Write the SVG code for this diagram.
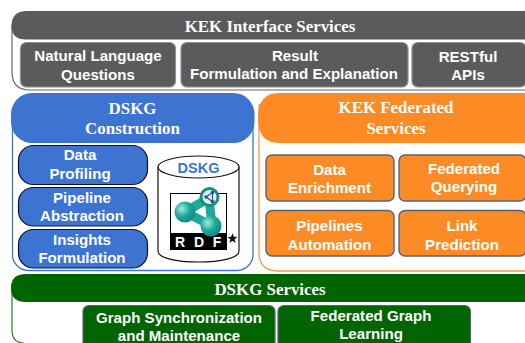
<svg xmlns="http://www.w3.org/2000/svg" width="525" height="343" viewBox="0 0 525 343">
<defs>
<style>
.h{font:bold 16.900px "Liberation Serif",serif;fill:#fff;text-anchor:middle}
.b{font:bold 15.100px "Liberation Sans",Arial,sans-serif;fill:#fff;text-anchor:middle}
.r{font:bold 14px "Liberation Sans",Arial,sans-serif;fill:#fff;text-anchor:middle}
.gray{fill:#5b5b5b;stroke:#8a8f96;stroke-width:1.2}
.blue{fill:#3d74d1;stroke:#0c1424;stroke-width:1.2}
.orange{fill:#fd8b25;stroke:#5a6472;stroke-width:1.4}
.green{fill:#006400;stroke:#5a6472;stroke-width:1.2}
</style>
<radialGradient id="t" cx=".35" cy=".35" r=".8"><stop offset="0" stop-color="#a5ece0"/><stop offset=".45" stop-color="#1fa99c"/><stop offset="1" stop-color="#0c7f76"/></radialGradient>
</defs>
<rect width="525" height="343" fill="#fff"/>
<g id="interface">
<path d="M12 25V72Q12 90 30 90H526V25Z" fill="#fff" stroke="#666" stroke-width="1.2"/>
<path d="M11.500 26Q11.500 11 27 11H526V39.500H26Q11.500 39.500 11.500 26Z" fill="#5b5b5b"/>
<text class="h" x="270" y="32">KEK Interface Services</text>
</g>
<g id="nl"><rect class="gray" x="20.500" y="42.500" width="155" height="44.500" rx="6"/><text class="b" x="98" y="61">Natural Language</text><text class="b" x="98" y="80">Questions</text></g>
<g id="result"><rect class="gray" x="181" y="42.500" width="227" height="44.500" rx="6"/><text class="b" x="295" y="61">Result</text><text class="b" x="294" y="79">Formulation and Explanation</text></g>
<g id="rest"><rect class="gray" x="412" y="42.500" width="114" height="44.500" rx="6"/><text class="b" x="468" y="62">RESTful</text><text class="b" x="468" y="80">APIs</text></g>

<g id="construction">
<rect x="12.500" y="105" width="240.500" height="165.500" rx="16" fill="#fff" stroke="#3d74d1" stroke-width="1.3"/>
<rect x="11" y="93" width="243.500" height="50" rx="21" fill="#3d74d1"/>
<text class="h" x="132.500" y="114">DSKG</text><text class="h" x="132.500" y="134">Construction</text>
</g>
<g id="profiling"><rect class="blue" x="18.500" y="145.500" width="129" height="39" rx="15"/><text class="b" x="80" y="160">Data</text><text class="b" x="80" y="179">Profiling</text></g>
<g id="abstraction"><rect class="blue" x="18.500" y="187.500" width="129" height="38.500" rx="15"/><text class="b" x="82" y="203">Pipeline</text><text class="b" x="82" y="221">Abstraction</text></g>
<g id="insights"><rect class="blue" x="18.500" y="229.500" width="129" height="38.500" rx="15"/><text class="b" x="82" y="245">Insights</text><text class="b" x="82" y="263">Formulation</text></g>

<g id="dskg-store">
<path d="M158 167V251C158 258 176 262 198.500 262S239 258 239 251V167" fill="#fff" stroke="#111" stroke-width="1.2"/>
<ellipse cx="198.500" cy="167" rx="40.500" ry="11" fill="#fff" stroke="#111" stroke-width="1.200"/>
<text x="198.500" y="173" font-family="Liberation Sans,Arial,sans-serif" font-weight="bold" font-size="14.500" fill="#3d74d1" text-anchor="middle">DSKG</text>
<rect x="170.500" y="193.500" width="56" height="56" fill="#fff" stroke="#000"/>
<rect x="170" y="233" width="57" height="17" fill="#000"/>
<path d="M185 212L209 198L212 226Z" stroke="#1fa99c" stroke-width="9" stroke-linejoin="round" fill="#fff"/>
<circle cx="185" cy="212" r="10.500" fill="url(#t)"/>
<circle cx="211" cy="226" r="10.500" fill="url(#t)"/>
<circle cx="209.500" cy="197" r="10" fill="#178f86"/>
<circle cx="209.500" cy="197" r="7" fill="#dff3f0"/>
<path d="M212.500 192.500L206 197L212.500 201.500Z" stroke="#2a4fa0" stroke-width="1.200" fill="none"/>
<circle cx="212.500" cy="192.500" r="1.800" fill="#2a4fa0"/><circle cx="206" cy="197" r="1.800" fill="#2a4fa0"/><circle cx="212.500" cy="201.500" r="1.800" fill="#2a4fa0"/>
<text class="r" x="180" y="247">R</text>
<text class="r" x="199" y="247">D</text>
<text class="r" x="217" y="247">F</text>
<path d="M232.500 233L233.800 236.700L237.500 237L234.600 239.200L235.600 243L232.500 240.800L229.400 243L230.400 239.200L227.500 237L231.200 236.700Z" fill="#111"/>
</g>

<g id="federated">
<path d="M259 105V252Q259 271 278 271H526V105Z" fill="#fff" stroke="#ee9a4d" stroke-width="1.3"/>
<path d="M526 93H279Q258 93 258 118Q258 143 279 143H526Z" fill="#fd8b25"/>
<text class="h" x="396" y="113">KEK Federated</text><text class="h" x="396" y="134">Services</text>
</g>
<g id="enrichment"><rect class="orange" x="266" y="155" width="128" height="46" rx="6"/><text class="b" x="329.500" y="175">Data</text><text class="b" x="329.500" y="193">Enrichment</text></g>
<g id="querying"><rect class="orange" x="399" y="155" width="127" height="46" rx="6"/><text class="b" x="464" y="174">Federated</text><text class="b" x="464" y="192">Querying</text></g>
<g id="automation"><rect class="orange" x="266" y="210.500" width="128" height="45.500" rx="6"/><text class="b" x="329.500" y="231">Pipelines</text><text class="b" x="329.500" y="250">Automation</text></g>
<g id="prediction"><rect class="orange" x="399" y="210.500" width="127" height="45.500" rx="6"/><text class="b" x="462" y="231">Link</text><text class="b" x="462" y="250">Prediction</text></g>

<g id="services">
<path d="M12 285V330Q12 343 24 343" fill="#fff" stroke="#2a7a2a" stroke-width="1.200"/>
<path d="M11 288Q11 274 26 274H526V302H26Q11 302 11 288Z" fill="#006400"/>
<text class="h" x="270" y="295">DSKG Services</text>
</g>
<g id="sync"><rect class="green" x="83" y="305.500" width="192" height="44" rx="6"/><text class="b" x="179" y="323">Graph Synchronization</text><text class="b" x="179" y="341">and Maintenance</text></g>
<g id="learning"><rect class="green" x="278" y="305.500" width="192.500" height="44" rx="6"/><text class="b" x="371" y="321">Federated Graph</text><text class="b" x="371" y="339">Learning</text></g>
</svg>
